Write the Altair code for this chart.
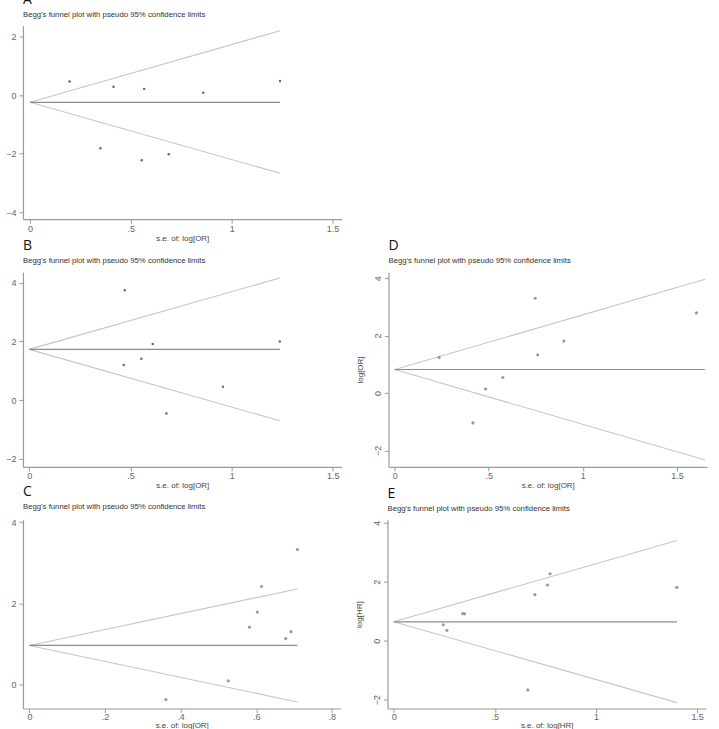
import altair as alt
import pandas as pd

FONT = "Liberation Sans"
SUB = "Begg's funnel plot with pseudo 95% confidence limits"

# ---- data ----
A_se = [0.196, 0.414, 0.566, 0.859, 1.240, 0.349, 0.554, 0.688]
A_est = [0.47, 0.29, 0.22, 0.09, 0.49, -1.81, -2.22, -2.02]
A_line = {"pooled": -0.24, "se_max": 1.24, "upper": 2.21, "lower": -2.67}

B_se = [0.472, 0.610, 0.554, 0.467, 0.957, 0.678, 1.238]
B_est = [3.74, 1.91, 1.41, 1.20, 0.46, -0.45, 2.00]
B_line = {"pooled": 1.73, "se_max": 1.238, "upper": 4.16, "lower": -0.70}

C_se = [0.709, 0.614, 0.603, 0.582, 0.692, 0.678, 0.526, 0.361]
C_est = [3.33, 2.42, 1.79, 1.42, 1.31, 1.14, 0.10, -0.36]
C_line = {"pooled": 0.97, "se_max": 0.709, "upper": 2.36, "lower": -0.42}

D_se = [0.236, 0.747, 1.604, 0.899, 0.760, 0.575, 0.483, 0.416]
D_est = [1.24, 3.30, 2.79, 1.81, 1.33, 0.54, 0.14, -1.04]
D_line = {"pooled": 0.82, "se_max": 1.65, "upper": 3.96, "lower": -2.33}

E_se = [0.245, 0.263, 0.341, 0.350, 0.698, 0.760, 0.773, 1.400, 0.663]
E_est = [0.54, 0.35, 0.92, 0.91, 1.56, 1.89, 2.27, 1.81, -1.67]
E_line = {"pooled": 0.64, "se_max": 1.40, "upper": 3.40, "lower": -2.10}

X_TICKS_15 = [0, 0.5, 1, 1.5]
X_TICKS_08 = [0, 0.2, 0.4, 0.6, 0.8]
LABEL_EXPR = "replace(toString(datum.value), '0.', '.')"


def panel(letter, se, est, ln, xdom, ydom, xticks, yticks, w, h,
          xtitle, ytitle=None, rotated=False, dot_size=7, dot_color="#777",
          xpad=1):
    pts = pd.DataFrame({"se": se, "est": est})
    fun = pd.DataFrame({
        "se": [0, ln["se_max"], 0, ln["se_max"]],
        "est": [ln["pooled"], ln["upper"], ln["pooled"], ln["lower"]],
        "side": ["u", "u", "l", "l"],
    })
    ctr = pd.DataFrame({"se": [0, ln["se_max"]], "est": [ln["pooled"], ln["pooled"]]})

    xs = alt.Scale(domain=xdom, nice=False, zero=False)
    ys = alt.Scale(domain=ydom, nice=False, zero=False)
    xaxis = alt.Axis(values=xticks, title=xtitle, labelExpr=LABEL_EXPR,
                     tickSize=4, labelPadding=xpad, titlePadding=xpad,
                     labelFontSize=9, titleFontSize=8)
    if rotated:
        yaxis = alt.Axis(values=yticks, title=ytitle, labelAngle=270,
                         labelAlign="center", labelBaseline="bottom",
                         labelPadding=2, tickSize=4, minExtent=15, maxExtent=15,
                         titlePadding=9, titleFontSize=8, labelFontSize=9)
    else:
        yaxis = alt.Axis(values=yticks, title=None, labelPadding=3, tickSize=4,
                         minExtent=18, maxExtent=18, labelFontSize=9)
    X = alt.X("se:Q", scale=xs, axis=xaxis)
    Y = alt.Y("est:Q", scale=ys, axis=yaxis)

    f = alt.Chart(fun).mark_line(color="#c6c6c6", strokeWidth=1.1).encode(x=X, y=Y, detail="side:N")
    c = alt.Chart(ctr).mark_line(color="#8c8c8c", strokeWidth=1.2).encode(x=X, y=Y)
    p = alt.Chart(pts).mark_circle(size=dot_size, color=dot_color, opacity=1).encode(x=X, y=Y)
    return alt.layer(f, c, p).properties(
        width=w, height=h,
        title=alt.TitleParams(
            text=letter, subtitle=SUB, anchor="start", frame="group",
            font="Open Sans", fontSize=14, fontWeight="normal", color="#111",
            subtitleFont=FONT, subtitleFontSize=7.8, subtitleColor="#333",
            subtitlePadding=4, offset=7,
        ),
    )


A = panel("A", A_se, A_est, A_line, [-0.035, 1.545], [-4.24, 2.39], X_TICKS_15,
          [-4, -2, 0, 2], 319, 194, "s.e. of: log[OR]", dot_color="#666", dot_size=6)
B = panel("B", B_se, B_est, B_line, [-0.031, 1.543], [-2.27, 4.36], X_TICKS_15,
          [-2, 0, 2, 4], 319, 195, "s.e. of: log[OR]", dot_color="#666", dot_size=6)
C = panel("C", C_se, C_est, C_line, [-0.017, 0.823], [-0.58, 4.06], X_TICKS_08,
          [0, 2, 4], 318, 189, "s.e. of: log[OR]", dot_color="#999", dot_size=10,
          xpad=0)
D = panel("D", D_se, D_est, D_line, [-0.033, 1.66], [-2.57, 4.21], X_TICKS_15,
          [-2, 0, 2, 4], 319, 195, "s.e. of: log[OR]", ytitle="log[OR]",
          rotated=True, dot_color="#999", dot_size=10)
E = panel("E", E_se, E_est, E_line, [-0.031, 1.544], [-2.30, 4.10], X_TICKS_15,
          [-2, 0, 2, 4], 319, 189, "s.e. of: log[HR]", ytitle="log[HR]",
          rotated=True, dot_color="#999", dot_size=10, xpad=0)

top = alt.vconcat(A, alt.hconcat(B, D, spacing=15), spacing=-3)
chart = alt.vconcat(
    top,
    alt.hconcat(C, E, spacing=15),
    spacing=-5,
).properties(
    padding={"left": 5, "top": -8, "right": 11, "bottom": 0},
    background="white",
).configure_view(stroke=None).configure_axis(
    grid=False, domainColor="#9a9a9a", tickColor="#9a9a9a", domainWidth=1.2,
    labelColor="#666", titleColor="#444", labelFont=FONT, titleFont=FONT,
    titleFontWeight="normal",
)

chart.save("out.html", embed_options={"renderer": "svg", "actions": False})
